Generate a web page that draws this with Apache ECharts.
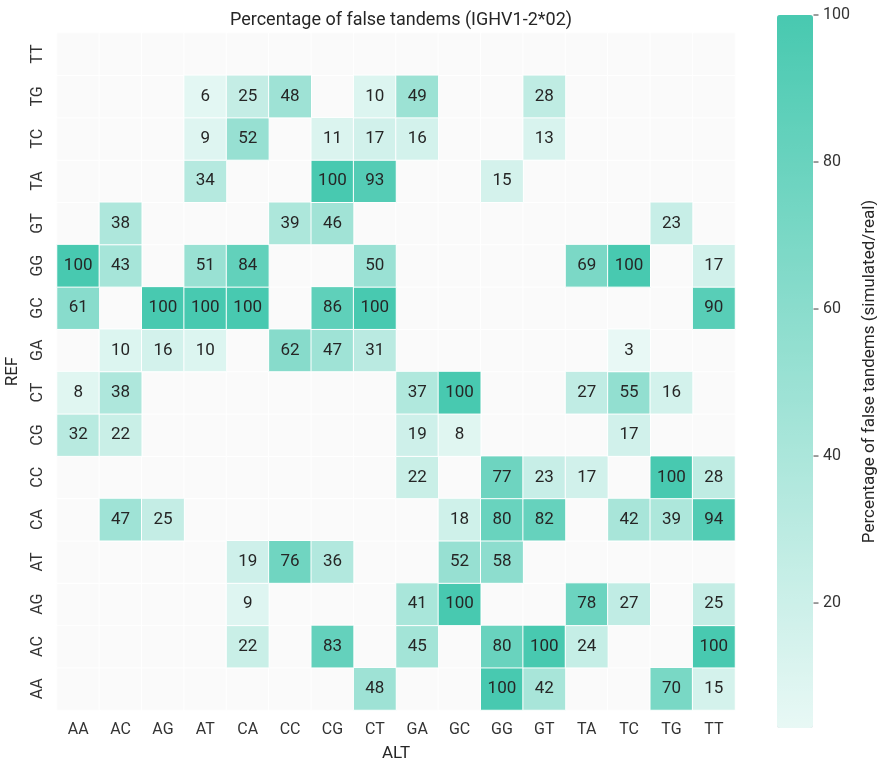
<!DOCTYPE html>
<html>
<head>
<meta charset="utf-8">
<script src="https://cdn.jsdelivr.net/npm/echarts@6/dist/echarts.min.js"></script>
<style>html,body{margin:0;padding:0;background:#fff;}#c{width:877px;height:758px;}</style>
</head>
<body>
<div id="c"></div>
<script>
const altCats = ['AA','AC','AG','AT','CA','CC','CG','CT','GA','GC','GG','GT','TA','TC','TG','TT'];
const refCats = ['AA','AC','AG','AT','CA','CC','CG','CT','GA','GC','GG','GT','TA','TC','TG','TT'];
// values per REF row, in ALT order; null = no value
const rowAA = [null,null,null,null,null,null,null,48,null,null,100,42,null,null,70,15];
const rowAC = [null,null,null,null,22,null,83,null,45,null,80,100,24,null,null,100];
const rowAG = [null,null,null,null,9,null,null,null,41,100,null,null,78,27,null,25];
const rowAT = [null,null,null,null,19,76,36,null,null,52,58,null,null,null,null,null];
const rowCA = [null,47,25,null,null,null,null,null,null,18,80,82,null,42,39,94];
const rowCC = [null,null,null,null,null,null,null,null,22,null,77,23,17,null,100,28];
const rowCG = [32,22,null,null,null,null,null,null,19,8,null,null,null,17,null,null];
const rowCT = [8,38,null,null,null,null,null,null,37,100,null,null,27,55,16,null];
const rowGA = [null,10,16,10,null,62,47,31,null,null,null,null,null,3,null,null];
const rowGC = [61,null,100,100,100,null,86,100,null,null,null,null,null,null,null,90];
const rowGG = [100,43,null,51,84,null,null,50,null,null,null,null,69,100,null,17];
const rowGT = [null,38,null,null,null,39,46,null,null,null,null,null,null,null,23,null];
const rowTA = [null,null,null,34,null,null,100,93,null,null,15,null,null,null,null,null];
const rowTC = [null,null,null,9,52,null,11,17,16,null,null,13,null,null,null,null];
const rowTG = [null,null,null,6,25,48,null,10,49,null,null,28,null,null,null,null];
const rowTT = [null,null,null,null,null,null,null,null,null,null,null,null,null,null,null,null];
const colorTicks = [20,40,60,80,100];

const rows = [rowAA,rowAC,rowAG,rowAT,rowCA,rowCC,rowCG,rowCT,rowGA,rowGC,rowGG,rowGT,rowTA,rowTC,rowTG,rowTT];
const data = [], bg = [];
rows.forEach((r, yi) => r.forEach((v, xi) => {
  bg.push([xi, yi, 0]);
  if (v !== null) data.push([xi, yi, v]);
}));

const chart = echarts.init(document.getElementById('c'));
const font = 'Roboto, "DejaVu Sans", sans-serif';
chart.setOption({
  animation: false,
  textStyle: { fontFamily: font },
  title: {
    text: 'Percentage of false tandems (IGHV1-2*02)',
    left: 396, top: 6, textAlign: 'center',
    textStyle: { fontFamily: font, fontSize: 18, fontWeight: 'normal', color: '#262626' }
  },
  grid: [
    { left: 57, top: 33, width: 678, height: 677, outerBoundsMode: 'none', containLabel: false },
    { left: 777, top: 15, width: 36, height: 713, outerBoundsMode: 'none', containLabel: false }
  ],
  xAxis: [
    { type: 'category', data: altCats, gridIndex: 0,
      axisLine: { show: false }, axisTick: { show: false },
      axisLabel: { fontSize: 16, color: '#333', margin: 12, fontFamily: font },
      name: 'ALT', nameLocation: 'middle', nameGap: 35,
      nameTextStyle: { fontSize: 17, color: '#262626', fontFamily: font },
      splitLine: { show: false } },
    { type: 'value', gridIndex: 1, show: false, min: 0, max: 1 }
  ],
  yAxis: [
    { type: 'category', data: refCats, gridIndex: 0,
      axisLine: { show: false }, axisTick: { show: false },
      axisLabel: { fontSize: 16, color: '#333', rotate: 90, margin: 11, fontFamily: font },
      name: 'REF', nameLocation: 'middle', nameGap: 36, nameRotate: 90,
      nameTextStyle: { fontSize: 17, color: '#262626', fontFamily: font },
      splitLine: { show: false } },
    { type: 'value', gridIndex: 1, position: 'right', min: 3, max: 100,
      axisLine: { show: false },
      axisTick: { show: false },
      axisLabel: { customValues: colorTicks, fontSize: 16, color: '#333', margin: 10, fontFamily: font },
      splitLine: { show: false },
      name: 'Percentage of false tandems (simulated/real)', nameLocation: 'middle', nameGap: 48, nameRotate: 90,
      nameTextStyle: { fontSize: 17, color: '#262626', fontFamily: font } }
  ],
  visualMap: {
    type: 'continuous', min: 3, max: 100, seriesIndex: 1,
    calculable: false, orient: 'vertical', left: 777, top: 15, padding: 0,
    itemWidth: 36, itemHeight: 713, text: ['', ''], showLabel: false,
    inRange: { color: ['#e8f8f5', '#48c9b0'] }
  },
  series: [
    { type: 'heatmap', xAxisIndex: 0, yAxisIndex: 0, data: bg, silent: true,
      itemStyle: { color: '#fafafa', borderColor: '#ffffff', borderWidth: 1 } },
    { type: 'heatmap', xAxisIndex: 0, yAxisIndex: 0, data: data,
      itemStyle: { borderColor: '#ffffff', borderWidth: 1 },
      label: { show: true, fontSize: 17, color: '#262626', fontFamily: font,
        formatter: p => String(p.value[2]) } },
    { type: 'scatter', xAxisIndex: 1, yAxisIndex: 1, silent: true, z: 10,
      data: colorTicks.map(v => [1, v]),
      symbol: 'rect', symbolSize: [5, 1.2], symbolOffset: [3, 0],
      itemStyle: { color: '#333' } }
  ]
});
</script>
</body>
</html>
